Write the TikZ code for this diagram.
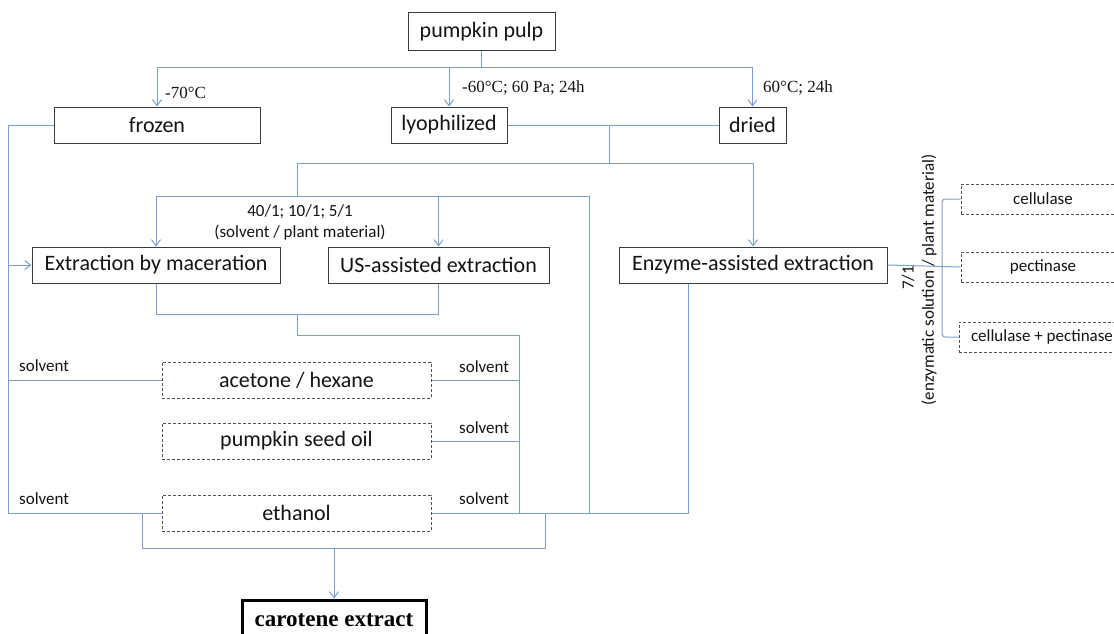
\documentclass[tikz,border=0pt]{standalone}
\usepackage{fontspec}
\setmainfont{Carlito}
\newfontfamily\serifl{Liberation Serif}
\usetikzlibrary{arrows.meta}
\definecolor{linec}{RGB}{120,160,208}
\definecolor{boxc}{RGB}{60,60,60}
\definecolor{dashc}{RGB}{80,80,80}
\definecolor{txtc}{RGB}{20,20,20}
\begin{document}
\begin{tikzpicture}[x=1pt,y=-1pt,
 conn/.style={draw=linec, line width=1pt},
 arr/.style={conn, -{Straight Barb[length=6pt,width=9pt]}},
 box/.style={draw=boxc, line width=1pt, inner sep=0pt, font=\fontsize{22}{26}\selectfont, text=txtc},
 dbox/.style={box, draw=dashc, dash pattern=on 3pt off 2pt},
 sbox/.style={dbox, font=\fontsize{17}{20}\selectfont},
 lab/.style={inner sep=0pt, font=\fontsize{17}{20}\selectfont, text=txtc},
 slab/.style={inner sep=0pt, font=\serifl\fontsize{17}{20}\selectfont, text=txtc},
]
\useasboundingbox (0,0) rectangle (1114,634);
\clip (0,0) rectangle (1114,634);
\fill[white] (0,0) rectangle (1114,634);

% boxes
\node[box, minimum width=147pt, minimum height=38pt] (pp) at (481.5,32) {pumpkin pulp};
\node[box, minimum width=206pt, minimum height=36pt] (frozen) at (157,125) {frozen};
\node[box, minimum width=116pt, minimum height=36pt] (lyo) at (449,125) {lyophilized};
\node[box, minimum width=67pt, minimum height=36pt] (dried) at (752.5,125) {dried};
\node[box, minimum width=248pt, minimum height=36pt] (mac) at (156,265) {Extraction by maceration};
\node[box, minimum width=221pt, minimum height=36pt] (us) at (438.5,265) {US-assisted extraction};
\node[box, minimum width=268pt, minimum height=36pt] (enz) at (753,265) {Enzyme-assisted extraction};
\node[dbox, minimum width=269pt, minimum height=36pt] (ace) at (296.5,380) {acetone / hexane};
\node[dbox, minimum width=269pt, minimum height=36pt] (pso) at (296.5,441) {pumpkin seed oil};
\node[dbox, minimum width=269pt, minimum height=36pt] (eth) at (296.5,513) {ethanol};
\node[sbox, minimum width=164pt, minimum height=30pt] (cel) at (1043,199) {cellulase};
\node[sbox, minimum width=164pt, minimum height=30pt] (pec) at (1043,267) {pectinase};
\node[sbox, minimum width=166pt, minimum height=30pt] (cp) at (1042,337) {cellulase + pectinase};
\node[box, line width=3pt, draw=black, text=black, minimum width=184pt, minimum height=40pt,
      font=\serifl\bfseries\fontsize{23}{26}\selectfont] (car) at (334,620) {carotene extract};

% labels
\node[slab, anchor=west] (l70) at (165,93) {-70°C};
\node[slab, anchor=west] (l60) at (462,88) {-60°C; 60 Pa; 24h};
\node[slab, anchor=west] (l24) at (763,88) {60°C; 24h};
\node[lab] (r1) at (300,212) {40/1; 10/1; 5/1};
\node[lab] (r2) at (300,233) {(solvent / plant material)};
\node[lab, anchor=west] (s1) at (19,366) {solvent};
\node[lab, anchor=west] (s2) at (19,499) {solvent};
\node[lab, anchor=west] (s3) at (459,367) {solvent};
\node[lab, anchor=west] (s4) at (459,428) {solvent};
\node[lab, anchor=west] (s5) at (459,499) {solvent};
\node[lab, rotate=90] (e1) at (908,278) {7/1};
\node[lab, rotate=90] (e2) at (929,280) {(enzymatic solution / plant material)};

% coordinates
\coordinate (t1) at (0,68);
\coordinate (L) at (8,0);
\coordinate (a1) at (609,125);
\coordinate (a2) at (609,163);
\coordinate (b1) at (297,163);
\coordinate (b2) at (297,196);
\coordinate (c1) at (589,196);
\coordinate (c2) at (589,513);
\coordinate (d1) at (688,513);
\coordinate (e) at (0,314);
\coordinate (f1) at (297,314);
\coordinate (f2) at (297,335);
\coordinate (g) at (519,335);
\coordinate (h1) at (142,513);
\coordinate (h2) at (142,548);
\coordinate (h3) at (545,548);
\coordinate (h4) at (545,513);
\coordinate (k) at (942,0);

% top distribution
\draw[conn] (pp.south) -- (pp.south |- t1);
\draw[conn] (frozen.north |- t1) -- (dried.north |- t1);
\draw[arr] (frozen.north |- t1) -- (frozen.north);
\draw[arr] (lyo.north |- t1) -- (lyo.north);
\draw[arr] (dried.north |- t1) -- (dried.north);

% frozen branch (left)
\draw[conn] (frozen.west) -- (L |- frozen.west) -- (L |- eth.west) -- (eth.west);
\draw[arr] (L |- mac.west) -- (mac.west);
\draw[conn] (L |- ace.west) -- (ace.west);

% lyophilized / dried branch
\draw[conn] (lyo.east) -- (dried.west);
\draw[conn] (a1) -- (a2);
\draw[conn] (b1) -- (enz.north |- b1);
\draw[arr] (enz.north |- b1) -- (enz.north);
\draw[conn] (b1) -- (b2);
\draw[conn] (mac.north |- b2) -- (c1) -- (c2);
\draw[arr] (mac.north |- b2) -- (mac.north);
\draw[arr] (us.north |- b2) -- (us.north);
\draw[conn] (eth.east) -- (d1) -- (d1 |- enz.south);

% maceration / US merge
\draw[conn] (mac.south) -- (mac.south |- e) -- (us.south |- e) -- (us.south);
\draw[conn] (f1) -- (f2) -- (g) -- (g |- eth.east);
\draw[conn] (ace.east) -- (g |- ace.east);
\draw[conn] (pso.east) -- (g |- pso.east);

% bottom bracket
\draw[conn] (h1) -- (h2) -- (h3) -- (h4);
\draw[arr] (car.north |- h2) -- (car.north);

% enzymes
\draw[conn] (enz.east) -- (pec.west);
\draw[conn, rounded corners=3pt] (cel.west) -- (k |- cel.west) -- (k |- cp.west) -- (cp.west);
\end{tikzpicture}
\end{document}
